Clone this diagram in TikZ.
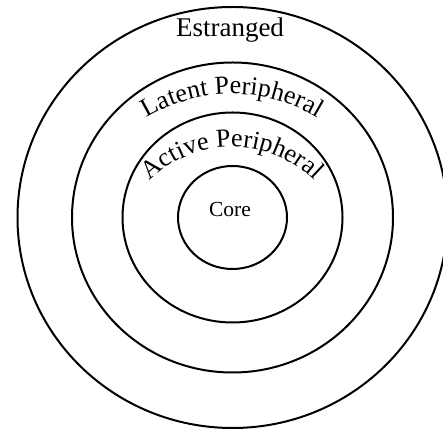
\documentclass[tikz,border=0pt]{standalone}
\usepackage{fontspec}
\setmainfont{Liberation Serif}
\usetikzlibrary{decorations.text}
\newcommand\ringfont{\fontsize{26}{30}\selectfont}
\tikzset{
  ring/.style={draw=black, line width=2pt},
  lbl/.style={inner sep=0pt},
}
\begin{document}
\begin{tikzpicture}[x=1pt,y=1pt]
\useasboundingbox (0,0) rectangle (443,430);
\coordinate (c) at (232.5,212.5);
\coordinate (tc) at (232,171);
\coordinate (ta) at (232,166);
% rings
\draw[ring] (c) ellipse [x radius=215, y radius=210.5];
\draw[ring] (c) ellipse [x radius=160.5, y radius=155];
\draw[ring] (c) ellipse [x radius=110, y radius=105];
\draw[ring] (c) ellipse [x radius=54.5, y radius=51.5];
% labels
\node[lbl, anchor=base, font=\fontsize{27}{30}\selectfont] (estranged) at (230,393) {Estranged};
\node[lbl, anchor=base, font=\fontsize{21.5}{24}\selectfont] (core) at (230,213.3) {Core};
\path[decorate, decoration={text along path, text align=center,
  text={|\ringfont|Latent Peripheral}}]
  (tc) ++(152:165) arc[start angle=152, end angle=28, radius=165];
\path[decorate, decoration={text along path, text align=center,
  text={|\ringfont|Active Peripheral}}]
  (ta) ++(140:117) arc[start angle=140, end angle=40, radius=117];
\end{tikzpicture}
\end{document}
